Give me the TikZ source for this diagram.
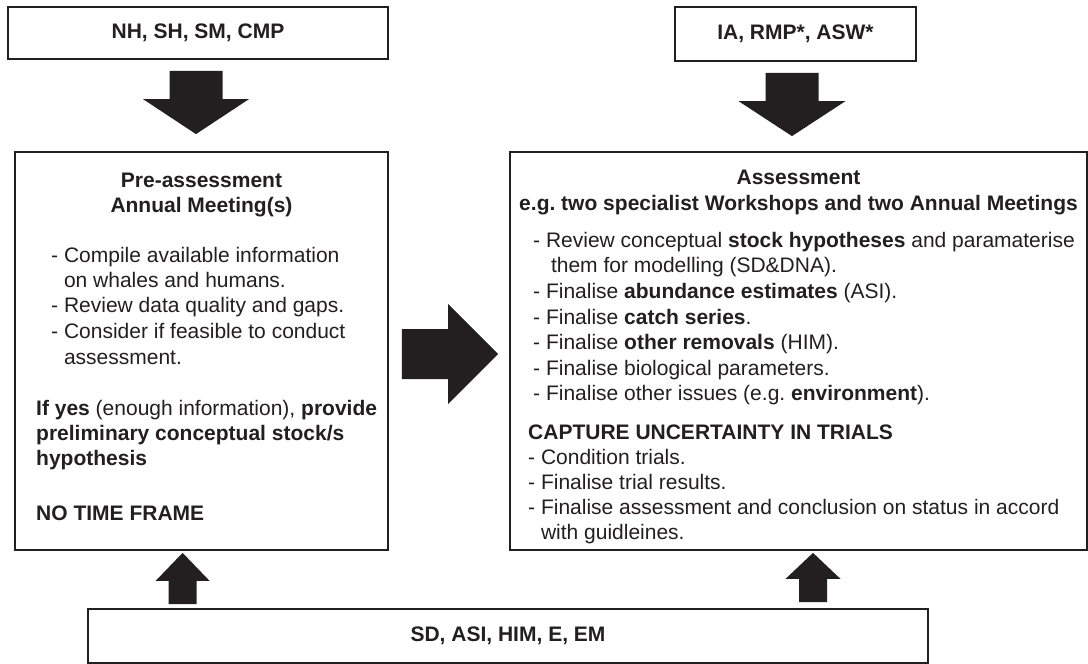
\documentclass[tikz,border=0pt]{standalone}
\usepackage{fontspec}
\setmainfont{Liberation Sans}
\usetikzlibrary{calc}
\definecolor{ink}{HTML}{231F20}
\newcommand{\downfat}[5]{\fill[ink] let \p1=(#1), \p2=(#2) in (\x1-#3,\y1) -- (\x1+#3,\y1) -- (\x1+#3,\y2+#5) -- (\x1+#4,\y2+#5) -- (\x1,\y2) -- (\x1-#4,\y2+#5) -- (\x1-#3,\y2+#5) -- cycle;}
\newcommand{\upfat}[5]{\fill[ink] let \p1=(#1), \p2=(#2) in (\x1-#3,\y1) -- (\x1+#3,\y1) -- (\x1+#3,\y2-#5) -- (\x1+#4,\y2-#5) -- (\x1,\y2) -- (\x1-#4,\y2-#5) -- (\x1-#3,\y2-#5) -- cycle;}
\newcommand{\rightfat}[5]{\fill[ink] let \p1=(#1), \p2=(#2) in (\x1,\y1-#3) -- (\x1,\y1+#3) -- (\x2-#5,\y1+#3) -- (\x2-#5,\y1+#4) -- (\x2,\y1) -- (\x2-#5,\y1-#4) -- (\x2-#5,\y1-#3) -- cycle;}
\begin{document}
\begin{tikzpicture}[x=1pt,y=-1pt,
  every node/.style={font=\fontsize{21}{25.5}\selectfont\frenchspacing, text=ink},
  box/.style={draw=ink, line width=1.8pt, inner sep=0pt, fill=white},
  ln/.style={anchor=base west, inner sep=0pt},
  hd/.style={anchor=base, inner sep=0pt, font=\fontsize{21}{25.5}\selectfont\frenchspacing\bfseries},
]
\fill[white] (0,0) rectangle (1088,664);
\useasboundingbox (0,0) rectangle (1088,664);

% boxes
\node[box, minimum width=380pt, minimum height=52pt] (t1) at (198,33) {\textbf{NH, SH, SM, CMP}};
\node[box, minimum width=241pt, minimum height=54pt] (t2) at (795.5,34) {\textbf{IA, RMP*, ASW*}};
\node[box, minimum width=373pt, minimum height=398pt] (b1) at (201.5,351) {};
\node[box, minimum width=577pt, minimum height=398pt] (b2) at (798.5,351) {};
\node[box, minimum width=840pt, minimum height=54pt] (b3) at (508,636) {\textbf{SD, ASI, HIM, E, EM}};

% block arrows
\coordinate (a1s) at ($(t1.south)+(-2,11)$);
\coordinate (a1e) at ($(b1.north)+(-5.5,-17)$);
\downfat{a1s}{a1e}{26.5pt}{53pt}{35pt}
\coordinate (a2s) at ($(t2.south)+(-3.5,11)$);
\coordinate (a2e) at ($(b2.north)+(-6.5,-15)$);
\downfat{a2s}{a2e}{26.5pt}{53.5pt}{35pt}
\coordinate (a3s) at ($(b1.east)+(13,3)$);
\coordinate (a3e) at ($(b2.west)+(-11,3)$);
\rightfat{a3s}{a3e}{25pt}{50pt}{50pt}
\coordinate (a4s) at ($(b3.north west)+(95.5,-4)$);
\coordinate (a4e) at ($(b1.south)+(-18,2)$);
\upfat{a4s}{a4e}{14pt}{27pt}{28pt}
\coordinate (a5s) at ($(b3.north)+(305,-6)$);
\coordinate (a5e) at ($(b2.south)+(14.5,2)$);
\upfat{a5s}{a5e}{14pt}{27.5pt}{26pt}

% left box text
\node[hd] (l1) at (201.5,187) {Pre-assessment};
\node[hd] (l2) at (201.5,212) {Annual Meeting(s)};
\node[ln] (l3) at (51,262) {- Compile available information};
\node[ln] (l4) at (51,287) {\hphantom{- }on whales and humans.};
\node[ln] (l5) at (51,312) {- Review data quality and gaps.};
\node[ln] (l6) at (51,338) {- Consider if feasible to conduct};
\node[ln] (l7) at (51,364) {\hphantom{- }assessment.};
\node[ln] (l8) at (36,415) {\textbf{If yes} (enough information), \textbf{provide}};
\node[ln] (l9) at (36,440) {\textbf{preliminary conceptual stock/s}};
\node[ln] (l10) at (36,465) {\textbf{hypothesis}};
\node[ln] (l11) at (36,520) {\textbf{NO TIME FRAME}};

% right box text
\node[hd] (r1) at (798.5,184) {Assessment};
\node[hd] (r2) at (798.5,210) {e.g. two specialist Workshops and two Annual Meetings};
\node[ln] (r3) at (533,247) {- Review conceptual \textbf{stock hypotheses} and paramaterise};
\node[ln] (r4) at (533,272) {\hphantom{- }\hspace{5pt}them for modelling (SD\&DNA).};
\node[ln] (r5) at (533,298) {- Finalise \textbf{abundance estimates} (ASI).};
\node[ln] (r6) at (533,324) {- Finalise \textbf{catch series}.};
\node[ln] (r7) at (533,349) {- Finalise \textbf{other removals} (HIM).};
\node[ln] (r8) at (533,375) {- Finalise biological parameters.};
\node[ln] (r9) at (533,400) {- Finalise other issues (e.g. \textbf{environment}).};
\node[ln] (r10) at (528,439) {\textbf{CAPTURE UNCERTAINTY IN TRIALS}};
\node[ln] (r11) at (528,464) {- Condition trials.};
\node[ln] (r12) at (528,489) {- Finalise trial results.};
\node[ln] (r13) at (528,514) {- Finalise assessment and conclusion on status in accord};
\node[ln] (r14) at (528,539) {\hphantom{- }with guidleines.};
\end{tikzpicture}
\end{document}
